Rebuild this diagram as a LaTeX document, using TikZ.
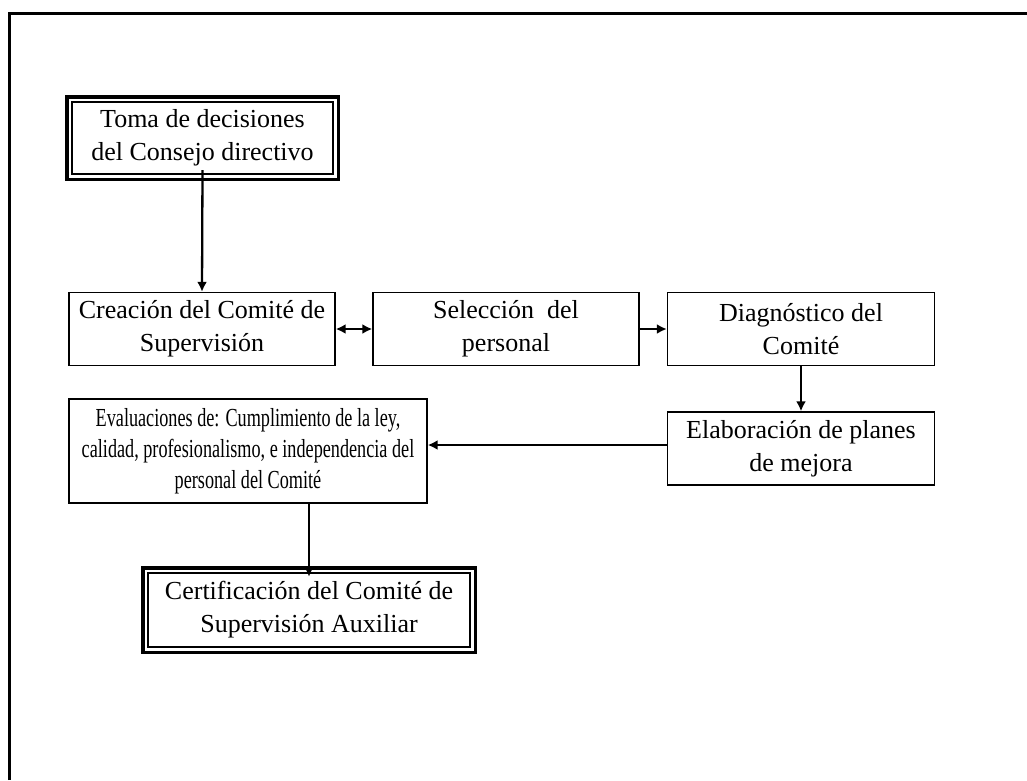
\documentclass[tikz,border=0pt]{standalone}
\usepackage{fontspec}
\setmainfont{Liberation Serif}
\newfontfamily\narrowserif[FakeStretch=0.7]{Liberation Serif}
\usetikzlibrary{arrows.meta}
\begin{document}
\begin{tikzpicture}[x=1pt,y=-1pt,
  boxstyle/.style={draw=black, line width=1.4pt, align=center, inner sep=0pt,
    font=\fontsize{26}{33}\selectfont},
  conn/.style={line width=2.3pt, -{Latex[length=10pt,width=10pt]}},
  dconn/.style={line width=2.3pt, {Latex[length=10pt,width=10pt]}-{Latex[length=10pt,width=10pt]}},
  outerframe/.style={line width=3.4pt}
]
\useasboundingbox (0,0) rectangle (1027,780);
% page frame (left and top edges)
\draw[line width=3pt] (9,780) -- (9,13) -- (1027,13);

\node[boxstyle, minimum width=261pt, minimum height=72pt] (toma) at (202.5,138)
  {Toma de decisiones\\del Consejo directivo};
\draw[outerframe] ([shift={(-4.5,-4.5)}]toma.north west) rectangle ([shift={(4.5,4.5)}]toma.south east);

\node[boxstyle, minimum width=266pt, minimum height=73pt] (crea) at (202,329)
  {Creación del Comité de\\Supervisión};
\node[boxstyle, minimum width=266pt, minimum height=73pt] (sel) at (506,329)
  {Selección\ \ del\\personal};
\node[boxstyle, minimum width=267pt, minimum height=73pt] (diag) at (801,329)
  {Diagnóstico del\\Comité};
\node[boxstyle, minimum width=267pt, minimum height=73pt] (elab) at (801,448.5)
  {Elaboración de planes\\de mejora};
\node[boxstyle, minimum width=358pt, minimum height=104pt,
  font=\narrowserif\fontsize{26}{31}\selectfont] (eval) at (248,451)
  {Evaluaciones de: Cumplimiento de la ley,\\calidad, profesionalismo, e independencia del\\personal del Comité};
\node[boxstyle, minimum width=322pt, minimum height=74pt] (cert) at (309,610)
  {Certificación del Comité de\\Supervisión Auxiliar};
\draw[outerframe] ([shift={(-4.5,-4.5)}]cert.north west) rectangle ([shift={(4.5,4.5)}]cert.south east);

\draw[conn] ([yshift=4.5pt]toma.south) -- (crea.north);
\draw[dconn] (crea.east) -- (sel.west);
\draw[conn] (sel.east) -- (diag.west);
\draw[conn] (diag.south) -- (elab.north);
\draw[conn] ([yshift=3.5pt]elab.west) -- ([yshift=3.5pt]elab.west -| eval.east);
\draw[conn] (eval.south -| cert.north) -- ([yshift=-4.5pt]cert.north);
\end{tikzpicture}
\end{document}
